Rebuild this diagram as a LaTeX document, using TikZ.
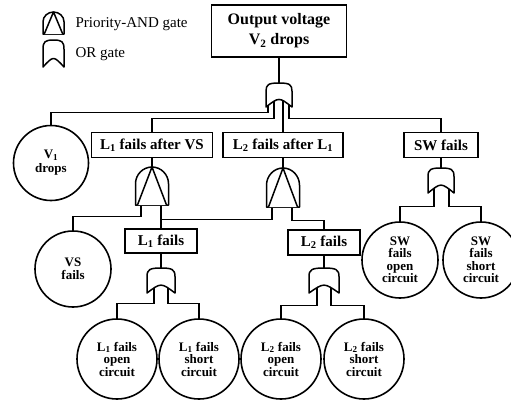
\documentclass[tikz,border=0pt]{standalone}
\usepackage{fontspec}
\setmainfont{Liberation Serif}
\usetikzlibrary{calc}
\newcommand\orgate[1]{%
\draw[gateline] (#1.south west) -- ($(#1.north west)!0.34!(#1.south west)$)
  .. controls ($(#1.north west)!0.06!(#1.south west)$) and ($(#1.north west)!0.2!(#1.north)$) .. (#1.north)
  .. controls ($(#1.north east)!0.2!(#1.north)$) and ($(#1.north east)!0.06!(#1.south east)$) .. ($(#1.north east)!0.34!(#1.south east)$)
  -- (#1.south east) .. controls ($(#1.south)!0.42!(#1.north)$) .. (#1.south west) -- cycle;}
\newcommand\pandgate[1]{%
\draw[gateline] (#1.south west) -- ($(#1.north west)!0.44!(#1.south west)$)
  .. controls ($(#1.north west)!0.2!(#1.south west)$) and ($(#1.north west)!0.45!(#1.north)$) .. (#1.north)
  .. controls ($(#1.north east)!0.45!(#1.north)$) and ($(#1.north east)!0.2!(#1.south east)$) .. ($(#1.north east)!0.44!(#1.south east)$)
  -- (#1.south east) -- cycle;
\draw[gateline] ($(#1.south west)!0.06!(#1.south east)$) -- (#1.north) -- ($(#1.south east)!0.06!(#1.south west)$);}
\begin{document}
\begin{tikzpicture}[x=1pt,y=-1pt,
  evbox/.style={draw,line width=1.6pt,inner sep=2pt,minimum height=25pt,font=\fontsize{15}{16}\selectfont\bfseries},
  basic/.style={draw,circle,line width=1.6pt,inner sep=0pt,align=center,font=\fontsize{13}{12.5}\selectfont\bfseries},
  gatebox/.style={inner sep=0pt,outer sep=0pt},
  gateline/.style={line width=1.5pt,fill=white,line join=round},
  wire/.style={line width=1.3pt},
  legend/.style={anchor=west,font=\fontsize{15}{16}\selectfont}]
\useasboundingbox (0,0) rectangle (511,400);
% legend
\node[gatebox,minimum width=21pt,minimum height=22pt] (lgand) at (53.5,23) {};
\node[gatebox,minimum width=21pt,minimum height=27pt] (lgor) at (53.5,53.5) {};
\node[legend] (lgandtxt) at (72,24) {Priority-AND gate};
\node[legend] (lgortxt) at (72,54) {OR gate};
% events
\node[evbox,minimum width=135pt,minimum height=52pt,align=center,font=\fontsize{16}{20}\selectfont\bfseries] (out) at (279,31) {Output voltage\\V\textsubscript{2} drops};
\node[evbox,minimum width=121pt] (l1vs) at (152,145) {L\textsubscript{1} fails after VS};
\node[evbox,minimum width=120pt] (l2l1) at (283,145) {L\textsubscript{2} fails after L\textsubscript{1}};
\node[evbox,minimum width=74pt] (swf) at (441,145) {SW fails};
\node[evbox,minimum width=72pt,minimum height=24pt] (l1f) at (161,241) {L\textsubscript{1} fails};
\node[evbox,minimum width=72pt] (l2f) at (324,242.5) {L\textsubscript{2} fails};
% basic events
\node[basic,minimum size=75pt,font=\fontsize{13}{14}\selectfont\bfseries] (v1) at (51,163) {V\textsubscript{1}\\drops};
\node[basic,minimum size=76pt] (vs) at (73,269) {VS\\fails};
\node[basic,minimum size=80pt] (c1o) at (117,359) {L\textsubscript{1} fails\\open\\circuit};
\node[basic,minimum size=80pt] (c1s) at (199,359) {L\textsubscript{1} fails\\short\\circuit};
\node[basic,minimum size=80pt] (c2o) at (281,359) {L\textsubscript{2} fails\\open\\circuit};
\node[basic,minimum size=80pt] (c2s) at (364,359) {L\textsubscript{2} fails\\short\\circuit};
\node[basic,minimum size=76pt] (c3o) at (400,260) {SW\\fails\\open\\circuit};
\node[basic,minimum size=76pt] (c3s) at (481,260) {SW\\fails\\short\\circuit};
% gates
\node[gatebox,minimum width=26pt,minimum height=24pt] (g0) at (279,95) {};
\node[gatebox,minimum width=33pt,minimum height=38pt] (ga1) at (152,186) {};
\node[gatebox,minimum width=33pt,minimum height=39pt] (ga2) at (283,187.5) {};
\node[gatebox,minimum width=28pt,minimum height=25pt] (go1) at (161,280.5) {};
\node[gatebox,minimum width=30pt,minimum height=25pt] (go2) at (324,280.5) {};
\node[gatebox,minimum width=26pt,minimum height=25pt] (go3) at (441,180.5) {};
% wires
\draw[wire] (out.south) -- (g0.north);
\draw[wire] ([xshift=-11pt]g0.center) |- ([yshift=12pt]v1.north) -- (v1.north);
\draw[wire] ([xshift=-5pt]g0.center) |- ([yshift=13pt]l1vs.north) -- (l1vs.north);
\draw[wire] ([xshift=4pt]g0.center) -- (l2l1.north);
\draw[wire] ([xshift=10pt]g0.center) |- ([yshift=13pt]swf.north) -- (swf.north);
\draw[wire] (l1vs.south) -- (ga1.north);
\draw[wire] ([xshift=-11pt]ga1.center) |- ([yshift=14pt]vs.north) -- (vs.north);
\draw[wire] ([xshift=9pt]ga1.center) -- (l1f.north);
\draw[wire] (l2l1.south) -- (ga2.north);
\draw[wire] ([xshift=-11pt]ga2.center) |- ([yshift=9pt]l1f.north);
\draw[wire] ([xshift=9pt]ga2.center) |- ([yshift=9pt]l2f.north) -- (l2f.north);
\draw[wire] (l1f.south) -- (go1.north);
\draw[wire] ([xshift=-7pt]go1.center) |- ([yshift=15pt]c1o.north) -- (c1o.north);
\draw[wire] ([xshift=7pt]go1.center) |- ([yshift=15pt]c1s.north) -- (c1s.north);
\draw[wire] (l2f.south) -- (go2.north);
\draw[wire] ([xshift=-7pt]go2.center) |- ([yshift=13pt]c2o.north) -- (c2o.north);
\draw[wire] ([xshift=7pt]go2.center) |- ([yshift=13pt]c2s.north) -- (c2s.north);
\draw[wire] (swf.south) -- (go3.north);
\draw[wire] ([xshift=-7pt]go3.center) |- ([yshift=15pt]c3o.north) -- (c3o.north);
\draw[wire] ([xshift=8pt]go3.center) |- ([yshift=15pt]c3s.north) -- (c3s.north);
% gate symbols
\pandgate{lgand}
\orgate{lgor}
\orgate{g0}
\pandgate{ga1}
\pandgate{ga2}
\orgate{go1}
\orgate{go2}
\orgate{go3}
\end{tikzpicture}
\end{document}
